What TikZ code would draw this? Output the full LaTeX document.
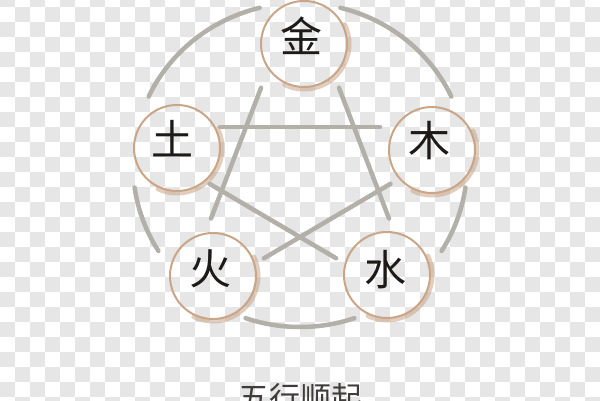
\documentclass[tikz,border=0pt]{standalone}
\usepackage{fontspec}
\newfontfamily\cjk{Noto Sans CJK SC}
\definecolor{linegray}{HTML}{B3B0AA}
\definecolor{ringbrown}{HTML}{C9A688}
\definecolor{inkdark}{HTML}{1E1A18}
\definecolor{checker}{HTML}{E6E6E6}
\begin{document}
\begin{tikzpicture}[x=1pt,y=1pt, line join=round, line cap=round]

		\tikzset{ring/.style={circle, draw=ringbrown, line width=2pt, minimum size=86pt, inner sep=0pt},
			brush/.style={draw=ringbrown, line width=5pt, opacity=.55},
			elem/.style={font=\cjk\fontsize{42}{42}\selectfont, text=inkdark, inner sep=0pt},
			wheel/.style={draw=linegray, line width=4.5pt}}

		\useasboundingbox (0,0) rectangle (600,400);
		% checker background
		\foreach \r in {0,...,27}
		\foreach \c in {0,...,39}{
			\pgfmathtruncatemacro\parity{mod(\r+\c,2)}
			\ifnum\parity=0 \fill[checker] (15*\c,408-15*\r) rectangle (15*\c+15,393-15*\r); \fi
		}

		% outer circle, broken at the elements
		\coordinate (o) at (300,235);
		\foreach \a/\b in {25/76,104/155,188/212,251/289,328/352}
		\draw[wheel] ([shift={(\a:167 and 162)}]o) arc[start angle=\a, end angle=\b, x radius=167, y radius=162];

		% star
		\coordinate (st) at (300,414);
		\coordinate (ul) at (113,273);
		\coordinate (ur) at (487,273);
		\coordinate (ll) at (176,90);
		\coordinate (lr) at (424,90);
		\draw[wheel, shorten <=109pt, shorten >=98pt] (st)--(ll);
		\draw[wheel, shorten <=109pt, shorten >=98pt] (st)--(lr);
		\draw[wheel, shorten <=107pt, shorten >=107pt] (ul)--(ur);
		\draw[wheel, shorten <=112pt, shorten >=102pt] (ul)--(lr);
		\draw[wheel, shorten <=112pt, shorten >=102pt] (ur)--(ll);

		% elements
		\node[ring] (jin) at (304,356) {};
		\node[ring] (mu) at (432,250) {};
		\node[ring] (shui) at (387,125) {};
		\node[ring] (huo) at (213,124) {};
		\node[ring] (tu) at (177,252) {};
		\foreach \n in {jin,mu,shui,huo,tu}
		\draw[brush] ([shift={(-115:45)}]\n.center) arc[start angle=-115, end angle=25, radius=45];
		\node[elem, xshift=-3pt, yshift=8pt] at (jin) {金};
		\node[elem, xshift=-3pt, yshift=9pt] at (mu) {木};
		\node[elem, xshift=-2pt, yshift=5pt] at (shui) {水};
		\node[elem, xshift=-3pt, yshift=7pt] at (huo) {火};
		\node[elem, xshift=-5pt, yshift=9pt] at (tu) {土};

		\node[font=\cjk\fontsize{31}{31}\selectfont, text=inkdark!85, anchor=north, inner sep=0pt] (cap) at (300,17) {五行顺起};
		\end{tikzpicture}
\end{document}
